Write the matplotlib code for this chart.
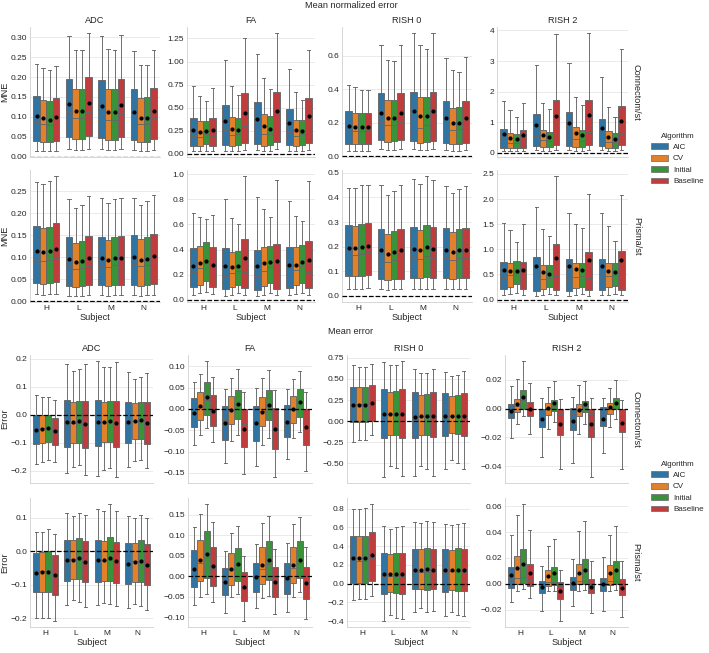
import matplotlib
matplotlib.use('Agg')
import matplotlib.pyplot as plt
from matplotlib.ticker import MultipleLocator
from matplotlib.patches import Patch

plt.rcParams['font.family'] = ['Liberation Sans', 'DejaVu Sans']

subjects = ['H', 'L', 'M', 'N']
algorithms = ['AIC', 'CV', 'Initial', 'Baseline']
metrics = ['ADC', 'FA', 'RISH 0', 'RISH 2']
scanners = ['Connectom/st', 'Prisma/st']
colors = ['#3274a1', '#e1812c', '#3a923a', '#c03d3e']

# each row: [whisker low, q1, median, q3, whisker high, mean]; order: subject H,L,M,N x algorithm AIC,CV,Initial,Baseline
mne_con_adc = [
    [0.015, 0.040, 0.087, 0.152, 0.233, 0.102], [0.014, 0.037, 0.082, 0.143, 0.222, 0.096],
    [0.014, 0.036, 0.080, 0.140, 0.218, 0.093], [0.015, 0.040, 0.085, 0.148, 0.228, 0.100],
    [0.019, 0.049, 0.111, 0.196, 0.302, 0.132], [0.016, 0.044, 0.096, 0.171, 0.267, 0.115],
    [0.016, 0.044, 0.096, 0.171, 0.269, 0.115], [0.019, 0.051, 0.111, 0.199, 0.311, 0.134],
    [0.018, 0.047, 0.105, 0.193, 0.302, 0.128], [0.016, 0.043, 0.093, 0.171, 0.271, 0.113],
    [0.016, 0.043, 0.093, 0.170, 0.267, 0.112], [0.018, 0.049, 0.106, 0.195, 0.307, 0.129],
    [0.016, 0.043, 0.095, 0.170, 0.265, 0.113], [0.014, 0.038, 0.082, 0.148, 0.231, 0.098],
    [0.014, 0.038, 0.082, 0.149, 0.231, 0.098], [0.016, 0.044, 0.096, 0.172, 0.268, 0.114]]
mne_con_fa = [
    [0.03, 0.08, 0.19, 0.39, 0.735, 0.26], [0.03, 0.08, 0.18, 0.355, 0.625, 0.24],
    [0.03, 0.11, 0.21, 0.36, 0.575, 0.25], [0.03, 0.085, 0.19, 0.385, 0.71, 0.26],
    [0.03, 0.10, 0.26, 0.53, 1.02, 0.36], [0.03, 0.09, 0.20, 0.40, 0.735, 0.27],
    [0.03, 0.10, 0.22, 0.385, 0.635, 0.26], [0.04, 0.12, 0.30, 0.655, 1.255, 0.44],
    [0.04, 0.11, 0.265, 0.56, 1.085, 0.38], [0.03, 0.09, 0.21, 0.435, 0.825, 0.30],
    [0.03, 0.10, 0.21, 0.405, 0.70, 0.27], [0.05, 0.13, 0.31, 0.67, 1.31, 0.46],
    [0.03, 0.10, 0.24, 0.49, 0.915, 0.33], [0.03, 0.085, 0.19, 0.37, 0.665, 0.26],
    [0.03, 0.10, 0.21, 0.365, 0.58, 0.25], [0.04, 0.12, 0.29, 0.60, 1.13, 0.41]]
mne_con_r0 = [
    [0.03, 0.075, 0.16, 0.27, 0.425, 0.18], [0.03, 0.075, 0.15, 0.26, 0.41, 0.175],
    [0.03, 0.075, 0.15, 0.255, 0.395, 0.175], [0.03, 0.075, 0.155, 0.26, 0.395, 0.175],
    [0.04, 0.095, 0.205, 0.375, 0.66, 0.26], [0.035, 0.085, 0.185, 0.335, 0.575, 0.23],
    [0.035, 0.09, 0.185, 0.335, 0.57, 0.23], [0.04, 0.095, 0.205, 0.375, 0.66, 0.26],
    [0.04, 0.09, 0.195, 0.385, 0.735, 0.27], [0.035, 0.08, 0.17, 0.35, 0.665, 0.24],
    [0.035, 0.085, 0.185, 0.35, 0.64, 0.24], [0.04, 0.09, 0.195, 0.385, 0.735, 0.27],
    [0.035, 0.08, 0.175, 0.33, 0.585, 0.225], [0.03, 0.075, 0.155, 0.29, 0.515, 0.20],
    [0.03, 0.075, 0.16, 0.295, 0.50, 0.20], [0.035, 0.08, 0.175, 0.33, 0.59, 0.225]]
mne_con_r2 = [
    [0.06, 0.15, 0.37, 0.78, 1.70, 0.60], [0.05, 0.14, 0.32, 0.64, 1.40, 0.49],
    [0.05, 0.15, 0.33, 0.62, 1.17, 0.45], [0.06, 0.16, 0.38, 0.75, 1.63, 0.58],
    [0.08, 0.21, 0.53, 1.27, 2.87, 0.91], [0.06, 0.17, 0.40, 0.75, 1.63, 0.59],
    [0.06, 0.17, 0.37, 0.68, 1.43, 0.52], [0.08, 0.24, 0.64, 1.71, 3.88, 1.19],
    [0.08, 0.22, 0.57, 1.32, 2.93, 0.97], [0.06, 0.18, 0.43, 0.84, 1.81, 0.65],
    [0.06, 0.17, 0.38, 0.74, 1.57, 0.57], [0.09, 0.26, 0.66, 1.73, 3.92, 1.23],
    [0.08, 0.21, 0.50, 1.11, 2.47, 0.82], [0.06, 0.16, 0.36, 0.70, 1.50, 0.52],
    [0.06, 0.16, 0.35, 0.64, 1.18, 0.46], [0.08, 0.24, 0.60, 1.52, 3.40, 1.05]]
mne_pri_adc = [
    [0.016, 0.042, 0.094, 0.171, 0.270, 0.113], [0.015, 0.040, 0.092, 0.167, 0.267, 0.111],
    [0.016, 0.042, 0.093, 0.169, 0.272, 0.113], [0.017, 0.044, 0.099, 0.177, 0.284, 0.119],
    [0.013, 0.035, 0.079, 0.145, 0.233, 0.097], [0.012, 0.033, 0.073, 0.132, 0.211, 0.089],
    [0.013, 0.034, 0.075, 0.137, 0.219, 0.092], [0.014, 0.036, 0.080, 0.147, 0.238, 0.098],
    [0.014, 0.037, 0.080, 0.146, 0.234, 0.098], [0.013, 0.035, 0.077, 0.139, 0.223, 0.094],
    [0.014, 0.037, 0.082, 0.146, 0.233, 0.099], [0.014, 0.037, 0.082, 0.148, 0.235, 0.099],
    [0.014, 0.038, 0.085, 0.151, 0.235, 0.101], [0.013, 0.035, 0.079, 0.141, 0.219, 0.094],
    [0.014, 0.037, 0.083, 0.145, 0.227, 0.097], [0.015, 0.039, 0.086, 0.152, 0.240, 0.102]]
mne_pri_fa = [
    [0.04, 0.10, 0.22, 0.41, 0.69, 0.27], [0.05, 0.12, 0.25, 0.43, 0.655, 0.29],
    [0.06, 0.15, 0.29, 0.46, 0.64, 0.31], [0.045, 0.10, 0.23, 0.42, 0.675, 0.28],
    [0.03, 0.085, 0.19, 0.41, 0.805, 0.27], [0.04, 0.10, 0.21, 0.38, 0.65, 0.26],
    [0.05, 0.12, 0.23, 0.39, 0.605, 0.27], [0.035, 0.09, 0.22, 0.48, 0.985, 0.33],
    [0.03, 0.08, 0.19, 0.40, 0.815, 0.27], [0.04, 0.11, 0.23, 0.42, 0.72, 0.29],
    [0.05, 0.13, 0.26, 0.425, 0.655, 0.30], [0.035, 0.085, 0.20, 0.44, 0.955, 0.31],
    [0.035, 0.09, 0.21, 0.42, 0.79, 0.28], [0.045, 0.12, 0.24, 0.42, 0.67, 0.28],
    [0.05, 0.13, 0.27, 0.435, 0.63, 0.30], [0.035, 0.09, 0.22, 0.47, 0.945, 0.32]]
mne_pri_r0 = [
    [0.03, 0.08, 0.167, 0.287, 0.44, 0.195], [0.03, 0.08, 0.166, 0.285, 0.44, 0.195],
    [0.03, 0.083, 0.17, 0.292, 0.45, 0.20], [0.033, 0.087, 0.178, 0.297, 0.45, 0.203],
    [0.027, 0.07, 0.15, 0.273, 0.45, 0.185], [0.025, 0.066, 0.14, 0.253, 0.41, 0.172],
    [0.027, 0.07, 0.147, 0.265, 0.425, 0.18], [0.027, 0.07, 0.15, 0.272, 0.45, 0.185],
    [0.028, 0.073, 0.155, 0.278, 0.475, 0.192], [0.028, 0.072, 0.15, 0.268, 0.455, 0.185],
    [0.03, 0.077, 0.162, 0.287, 0.487, 0.198], [0.028, 0.073, 0.155, 0.278, 0.47, 0.19],
    [0.028, 0.073, 0.155, 0.275, 0.445, 0.187], [0.027, 0.07, 0.145, 0.258, 0.42, 0.177],
    [0.028, 0.073, 0.154, 0.272, 0.435, 0.185], [0.028, 0.073, 0.155, 0.274, 0.445, 0.187]]
mne_pri_r2 = [
    [0.09, 0.20, 0.43, 0.74, 1.53, 0.59], [0.11, 0.25, 0.48, 0.73, 1.38, 0.56],
    [0.13, 0.30, 0.52, 0.76, 1.14, 0.56], [0.09, 0.21, 0.44, 0.74, 1.50, 0.58],
    [0.07, 0.17, 0.40, 0.84, 1.84, 0.66], [0.08, 0.20, 0.41, 0.69, 1.40, 0.54],
    [0.10, 0.24, 0.43, 0.68, 1.26, 0.51], [0.08, 0.19, 0.47, 1.10, 2.46, 0.82],
    [0.07, 0.17, 0.39, 0.80, 1.73, 0.66], [0.09, 0.23, 0.45, 0.73, 1.50, 0.60],
    [0.10, 0.25, 0.46, 0.72, 1.42, 0.58], [0.07, 0.18, 0.42, 0.95, 2.10, 0.78],
    [0.08, 0.19, 0.42, 0.81, 1.72, 0.66], [0.09, 0.24, 0.47, 0.72, 1.46, 0.56],
    [0.11, 0.27, 0.49, 0.72, 1.16, 0.54], [0.08, 0.19, 0.45, 0.96, 2.08, 0.79]]

err_con_adc = [
    [-0.175, -0.105, -0.05, -0.002, 0.070, -0.053], [-0.168, -0.10, -0.048, -0.002, 0.062, -0.05],
    [-0.162, -0.098, -0.046, 0.0, 0.064, -0.048], [-0.17, -0.107, -0.056, -0.01, 0.052, -0.058],
    [-0.208, -0.115, -0.03, 0.054, 0.183, -0.027], [-0.187, -0.10, -0.028, 0.047, 0.158, -0.025],
    [-0.18, -0.10, -0.028, 0.05, 0.162, -0.022], [-0.215, -0.12, -0.03, 0.05, 0.18, -0.032],
    [-0.218, -0.112, -0.03, 0.053, 0.193, -0.027], [-0.198, -0.097, -0.026, 0.046, 0.17, -0.024],
    [-0.19, -0.097, -0.026, 0.05, 0.172, -0.022], [-0.223, -0.115, -0.03, 0.05, 0.19, -0.03],
    [-0.187, -0.10, -0.025, 0.046, 0.152, -0.025], [-0.165, -0.087, -0.022, 0.042, 0.128, -0.022],
    [-0.16, -0.087, -0.022, 0.045, 0.136, -0.02], [-0.19, -0.103, -0.025, 0.045, 0.15, -0.028]]
err_con_fa = [
    [-0.084, -0.043, -0.008, 0.025, 0.064, -0.009], [-0.06, -0.027, 0.005, 0.041, 0.083, 0.008],
    [-0.045, -0.014, 0.021, 0.064, 0.113, 0.027], [-0.078, -0.04, -0.005, 0.032, 0.075, -0.004],
    [-0.127, -0.072, -0.025, 0.007, 0.046, -0.032], [-0.076, -0.036, -0.002, 0.031, 0.072, -0.003],
    [-0.062, -0.024, 0.012, 0.045, 0.093, 0.012], [-0.153, -0.09, -0.036, 0.0, 0.039, -0.046],
    [-0.133, -0.075, -0.028, 0.008, 0.049, -0.034], [-0.085, -0.041, -0.004, 0.029, 0.073, -0.006],
    [-0.067, -0.026, 0.01, 0.045, 0.092, 0.009], [-0.16, -0.094, -0.038, 0.002, 0.045, -0.047],
    [-0.118, -0.065, -0.024, 0.009, 0.047, -0.03], [-0.067, -0.032, 0.0, 0.03, 0.07, 0.0],
    [-0.053, -0.018, 0.013, 0.047, 0.09, 0.016], [-0.145, -0.085, -0.033, 0.001, 0.041, -0.043]]
err_con_r0 = [
    [-0.25, -0.005, 0.2, 0.41, 0.66, 0.195], [-0.225, -0.005, 0.2, 0.40, 0.645, 0.195],
    [-0.22, -0.005, 0.2, 0.40, 0.645, 0.195], [-0.17, 0.005, 0.22, 0.43, 0.68, 0.22],
    [-0.665, -0.20, 0.08, 0.38, 0.70, 0.08], [-0.53, -0.16, 0.08, 0.35, 0.665, 0.085],
    [-0.56, -0.16, 0.08, 0.355, 0.67, 0.085], [-0.655, -0.195, 0.08, 0.38, 0.715, 0.08],
    [-0.65, -0.195, 0.05, 0.34, 0.62, 0.05], [-0.535, -0.165, 0.06, 0.315, 0.565, 0.06],
    [-0.565, -0.165, 0.06, 0.325, 0.575, 0.055], [-0.65, -0.19, 0.05, 0.345, 0.62, 0.055],
    [-0.565, -0.18, 0.06, 0.33, 0.585, 0.06], [-0.46, -0.145, 0.065, 0.30, 0.535, 0.065],
    [-0.495, -0.15, 0.065, 0.31, 0.55, 0.065], [-0.565, -0.18, 0.065, 0.33, 0.595, 0.065]]
err_con_r2 = [
    [-0.0205, -0.0065, -0.002, 0.003, 0.0155, -0.0015], [-0.0105, -0.0025, 0.002, 0.0065, 0.0205, 0.003],
    [-0.0055, 0.0, 0.006, 0.0125, 0.033, 0.008], [-0.0175, -0.0055, 0.0, 0.0045, 0.0175, 0.0],
    [-0.0335, -0.013, -0.0045, -0.0005, 0.0075, -0.0075], [-0.014, -0.0045, 0.0005, 0.0035, 0.015, 0.0005],
    [-0.0095, -0.0015, 0.002, 0.006, 0.019, 0.0035], [-0.042, -0.018, -0.0035, -0.0005, 0.0065, -0.0105],
    [-0.0375, -0.015, -0.004, 0.0005, 0.008, -0.0085], [-0.0175, -0.0055, -0.001, 0.003, 0.016, -0.001],
    [-0.011, -0.0025, 0.0015, 0.0055, 0.019, 0.003], [-0.0475, -0.0195, -0.004, 0.0, 0.007, -0.011],
    [-0.031, -0.012, -0.003, 0.001, 0.0075, -0.007], [-0.0125, -0.0035, 0.0005, 0.004, 0.0145, 0.001],
    [-0.007, 0.0, 0.0035, 0.0075, 0.02, 0.004], [-0.042, -0.0165, -0.003, 0.0, 0.006, -0.01]]
err_pri_adc = [
    [-0.20, -0.122, -0.062, -0.005, 0.056, -0.065], [-0.198, -0.12, -0.058, -0.002, 0.058, -0.062],
    [-0.20, -0.12, -0.056, 0.001, 0.065, -0.061], [-0.208, -0.13, -0.065, -0.01, 0.052, -0.07],
    [-0.16, -0.09, -0.025, 0.034, 0.113, -0.027], [-0.146, -0.082, -0.023, 0.032, 0.104, -0.025],
    [-0.15, -0.083, -0.02, 0.04, 0.114, -0.021], [-0.167, -0.093, -0.028, 0.031, 0.109, -0.031],
    [-0.16, -0.091, -0.027, 0.032, 0.126, -0.026], [-0.153, -0.088, -0.025, 0.031, 0.121, -0.025],
    [-0.157, -0.088, -0.022, 0.041, 0.141, -0.021], [-0.164, -0.094, -0.03, 0.028, 0.12, -0.03],
    [-0.17, -0.098, -0.035, 0.025, 0.104, -0.037], [-0.158, -0.091, -0.03, 0.026, 0.098, -0.032],
    [-0.162, -0.093, -0.027, 0.033, 0.108, -0.029], [-0.174, -0.101, -0.037, 0.022, 0.099, -0.04]]
err_pri_fa = [
    [-0.07, -0.027, 0.015, 0.063, 0.12, 0.018], [-0.05, -0.013, 0.032, 0.089, 0.152, 0.04],
    [-0.043, -0.004, 0.046, 0.11, 0.176, 0.054], [-0.064, -0.024, 0.02, 0.071, 0.132, 0.025],
    [-0.089, -0.047, -0.013, 0.02, 0.06, -0.014], [-0.052, -0.021, 0.016, 0.057, 0.106, 0.018],
    [-0.045, -0.013, 0.026, 0.069, 0.121, 0.03], [-0.11, -0.062, -0.025, 0.009, 0.05, -0.027],
    [-0.078, -0.04, -0.003, 0.033, 0.078, -0.003], [-0.053, -0.02, 0.018, 0.071, 0.13, 0.027],
    [-0.048, -0.01, 0.03, 0.086, 0.146, 0.038], [-0.093, -0.052, -0.013, 0.022, 0.066, -0.014],
    [-0.087, -0.043, -0.005, 0.033, 0.081, -0.005], [-0.052, -0.016, 0.02, 0.072, 0.128, 0.028],
    [-0.04, -0.006, 0.031, 0.085, 0.143, 0.04], [-0.106, -0.056, -0.015, 0.023, 0.07, -0.017]]
err_pri_r0 = [
    [-0.17, 0.01, 0.24, 0.51, 0.80, 0.27], [-0.165, 0.01, 0.24, 0.505, 0.80, 0.27],
    [-0.16, 0.01, 0.245, 0.51, 0.81, 0.275], [-0.13, 0.03, 0.27, 0.545, 0.85, 0.30],
    [-0.40, -0.11, 0.08, 0.33, 0.61, 0.10], [-0.33, -0.09, 0.085, 0.315, 0.58, 0.105],
    [-0.37, -0.10, 0.085, 0.325, 0.60, 0.105], [-0.38, -0.11, 0.08, 0.33, 0.615, 0.105],
    [-0.30, -0.06, 0.11, 0.37, 0.655, 0.145], [-0.265, -0.055, 0.125, 0.37, 0.65, 0.15],
    [-0.30, -0.07, 0.125, 0.38, 0.67, 0.155], [-0.29, -0.06, 0.11, 0.37, 0.66, 0.15],
    [-0.35, -0.085, 0.12, 0.37, 0.64, 0.14], [-0.30, -0.065, 0.13, 0.36, 0.62, 0.14],
    [-0.33, -0.08, 0.13, 0.375, 0.64, 0.14], [-0.345, -0.08, 0.12, 0.37, 0.645, 0.14]]
err_pri_r2 = [
    [-0.014, -0.003, 0.003, 0.013, 0.0375, 0.0065], [-0.006, 0.0, 0.0045, 0.0215, 0.053, 0.012],
    [-0.004, 0.0005, 0.005, 0.027, 0.062, 0.0155], [-0.011, -0.002, 0.003, 0.0155, 0.042, 0.008],
    [-0.021, -0.0075, -0.001, 0.0025, 0.0135, -0.0025], [-0.006, -0.0015, 0.001, 0.0105, 0.029, 0.006],
    [-0.006, -0.001, 0.001, 0.013, 0.0345, 0.008], [-0.029, -0.0115, -0.002, 0.0015, 0.0105, -0.0055],
    [-0.017, -0.005, 0.0005, 0.005, 0.0195, 0.0005], [-0.006, -0.0005, 0.002, 0.0155, 0.041, 0.0085],
    [-0.005, -0.0005, 0.0025, 0.0195, 0.049, 0.011], [-0.023, -0.0075, -0.0005, 0.0035, 0.018, -0.0025],
    [-0.021, -0.006, 0.0, 0.0045, 0.0205, -0.0005], [-0.006, -0.001, 0.002, 0.0145, 0.038, 0.008],
    [-0.005, -0.0005, 0.0025, 0.0175, 0.045, 0.011], [-0.026, -0.009, -0.001, 0.0035, 0.0175, -0.003]]

mne_panels = [[mne_con_adc, mne_con_fa, mne_con_r0, mne_con_r2],
              [mne_pri_adc, mne_pri_fa, mne_pri_r0, mne_pri_r2]]
err_panels = [[err_con_adc, err_con_fa, err_con_r0, err_con_r2],
              [err_pri_adc, err_pri_fa, err_pri_r0, err_pri_r2]]
mne_steps = [[0.05, 0.25, 0.2, 1.0], [0.05, 0.2, 0.1, 0.5]]
err_steps = [[0.1, 0.05, 0.25, 0.02], [0.1, 0.05, 0.2, 0.02]]

W, H = 709, 653
fig = plt.figure(figsize=(W / 100, H / 100), dpi=100)
fig.patch.set_facecolor('white')

EDGE = '#666666'
TXT = '#262626'
FS_TICK = 6.0
FS_LAB = 6.6
offsets = [-0.3, -0.1, 0.1, 0.3]


def draw(ax, rows, step):
    stats, pos = [], []
    for i, r in enumerate(rows):
        s, a = divmod(i, 4)
        stats.append(dict(whislo=r[0], q1=r[1], med=r[2], q3=r[3], whishi=r[4], mean=r[5]))
        pos.append(s + offsets[a])
    bp = ax.bxp(stats, positions=pos, widths=0.196, patch_artist=True,
                showmeans=True, showfliers=False, manage_ticks=False,
                boxprops=dict(edgecolor=EDGE, linewidth=0.65),
                medianprops=dict(color=EDGE, linewidth=0.65),
                whiskerprops=dict(color=EDGE, linewidth=0.65),
                capprops=dict(color=EDGE, linewidth=0.65),
                meanprops=dict(marker='o', markerfacecolor='black', markeredgecolor='black',
                               markersize=2.0))
    for i, b in enumerate(bp['boxes']):
        b.set_facecolor(colors[i % 4])
    ax.axhline(0, color='black', linestyle='--', linewidth=0.9, zorder=5)
    ax.set_xlim(-0.5, 3.5)
    ax.set_xticks(range(4))
    ax.yaxis.set_major_locator(MultipleLocator(step))
    ax.grid(axis='y', color='#e6e6e6', linewidth=0.6, zorder=0)
    ax.set_axisbelow(True)
    for sp in ['top', 'right']:
        ax.spines[sp].set_visible(False)
    for sp in ['left', 'bottom']:
        ax.spines[sp].set_color('#d0d0d0')
        ax.spines[sp].set_linewidth(0.6)
    ax.tick_params(length=0, labelsize=FS_TICK, pad=2, colors=TXT)


def grid(panels, steps, lefts, rights, rows_px, ylabel, title, title_y, leg_y):
    for r in range(2):
        top, bot = rows_px[r]
        for c in range(4):
            ax = fig.add_axes([lefts[c] / W, 1 - bot / H, (rights[c] - lefts[c]) / W, (bot - top) / H])
            draw(ax, panels[r][c], steps[r][c])
            if r == 0:
                ax.set_title(metrics[c], fontsize=FS_LAB, pad=3, color=TXT)
                ax.set_xticklabels([])
            else:
                ax.set_xticklabels(subjects)
                ax.set_xlabel('Subject', fontsize=FS_LAB, labelpad=1, color=TXT)
            if c == 0:
                ax.set_ylabel(ylabel, fontsize=FS_LAB, color=TXT)
                ax.yaxis.set_label_coords(-(lefts[0] - 9) / (rights[0] - lefts[0]), 0.5)
            if c == 3:
                ax.text(1.03, 0.5, scanners[r], transform=ax.transAxes, rotation=270,
                        va='center', ha='left', fontsize=FS_LAB, color=TXT)
    fig.text(351 / W, 1 - title_y / H, title, ha='center', va='center', fontsize=FS_LAB, color=TXT)
    handles = [Patch(facecolor=colors[i], edgecolor=EDGE, linewidth=0.5) for i in range(4)]
    leg = fig.legend(handles, algorithms, title='Algorithm', loc='center left',
                     bbox_to_anchor=(644 / W, 1 - leg_y / H), frameon=False,
                     fontsize=FS_TICK - 0.2, title_fontsize=FS_TICK - 0.2,
                     handlelength=2.1, handleheight=0.75, labelspacing=0.45, handletextpad=0.6)
    leg.get_title().set_color(TXT)
    for t in leg.get_texts():
        t.set_color(TXT)


grid(mne_panels, mne_steps, [30, 187, 342, 497], [160, 315, 472, 628],
     [(27, 157), (170, 302)], 'MNE', 'Mean normalized error', 5, 159)
grid(err_panels, err_steps, [30, 188, 347, 505], [153, 312, 470, 628],
     [(355, 483), (498, 627)], 'Error', 'Mean error', 331, 487)

fig.savefig('out.png', dpi=100, facecolor='white')
